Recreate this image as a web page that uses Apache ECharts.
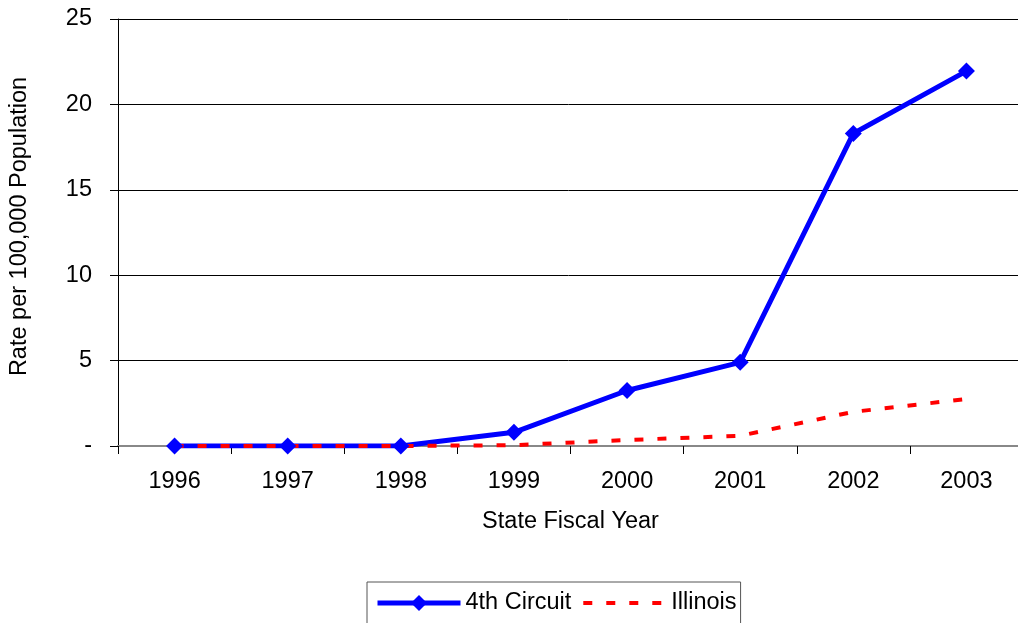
<!DOCTYPE html>
<html><head><meta charset="utf-8">
<script src="https://cdn.jsdelivr.net/npm/echarts@6/dist/echarts.min.js"></script>
<style>html,body{margin:0;padding:0;background:#fff}#c{width:1018px;height:623px}</style>
</head><body><div id="c"></div>
<script>
const categories = ['1996','1997','1998','1999','2000','2001','2002','2003'];
const circuit4 = [0, 0, 0, 0.8, 3.25, 4.9, 18.3, 21.95];
const illinois = [0, 0, 0, 0.05, 0.35, 0.6, 2.0, 2.75];
const yTicks = [0, 5, 10, 15, 20, 25];

const font = 'Liberation Sans, Arial, sans-serif';
const fs = 23.5;
const chart = echarts.init(document.getElementById('c'), null, {renderer: 'canvas'});
chart.setOption({
  animation: false,
  backgroundColor: '#fff',
  grid: {left: 118, top: 19, right: -5, bottom: 177, containLabel: false, outerBoundsMode: 'none'},
  xAxis: {
    type: 'category', data: categories, boundaryGap: true,
    name: 'State Fiscal Year', nameLocation: 'middle', nameGap: 64,
    nameTextStyle: {fontFamily: font, fontSize: fs, color: '#000'},
    axisLine: {show: true, lineStyle: {color: '#888', width: 2}},
    axisTick: {show: true, length: 8, lineStyle: {color: '#000', width: 1}, alignWithLabel: false},
    axisLabel: {fontFamily: font, fontSize: fs, color: '#000', margin: 24},
    splitLine: {show: false}
  },
  yAxis: {
    type: 'value', min: 0, max: 25, interval: 5,
    name: 'Rate per 100,000 Population', nameLocation: 'middle', nameGap: 86, nameRotate: 90,
    nameTextStyle: {fontFamily: font, fontSize: fs, color: '#000', padding: [0, 0, 0, 12]},
    axisLine: {show: true, lineStyle: {color: '#000', width: 1}},
    axisTick: {show: true, inside: false, length: 8, lineStyle: {color: '#000'}},
    axisLabel: {fontFamily: font, fontSize: fs, color: '#000', margin: 26,
      formatter: v => (v === 0 ? '-' : (yTicks.includes(v) ? String(v) : ''))},
    splitLine: {show: true, lineStyle: {color: '#000', width: 1}}
  },
  legend: {
    top: 582, left: 367,
    data: [
      {name: '4th Circuit', lineStyle: {width: 5}},
      {name: 'Illinois', lineStyle: {width: 4}, itemStyle: {color: 'rgba(0,0,0,0)', borderWidth: 0}}
    ],
    itemWidth: 83, itemHeight: 20, itemGap: 10,
    textStyle: {fontFamily: font, fontSize: fs, color: '#000'},
    borderColor: '#555', borderWidth: 1, padding: [9, 4, 20, 8]
  },
  series: [
    {
      name: '4th Circuit', type: 'line', data: circuit4, z: 2,
      symbol: 'diamond', symbolSize: 17, showSymbol: false,
      lineStyle: {color: '#0000ff', width: 5},
      itemStyle: {color: '#0000ff'}
    },
    {
      name: 'Illinois', type: 'line', data: illinois, z: 3,
      showSymbol: false, symbol: 'none',
      lineStyle: {color: '#ff0000', width: 4, type: [9, 14]},
      itemStyle: {color: '#ff0000'}
    },
    {
      name: '4th Circuit markers', type: 'scatter', data: circuit4, z: 4,
      symbol: 'diamond', symbolSize: 17,
      itemStyle: {color: '#0000ff', opacity: 1}
    }
  ]
});
</script></body></html>
